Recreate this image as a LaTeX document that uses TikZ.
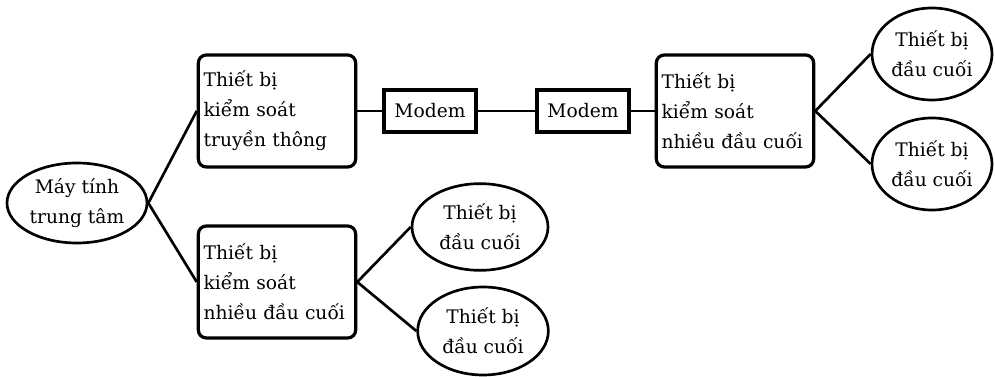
\documentclass[tikz,border=0pt]{standalone}
\usepackage{fontspec}
\setmainfont{DejaVu Serif}
\usepackage{tikz}
\usetikzlibrary{shapes.geometric}
\tikzset{
  ctrlbox/.style={draw,line width=2.4pt,rounded corners=6pt,text width=110pt,align=left,inner sep=4pt,minimum height=84pt},
  modembox/.style={draw,line width=3pt,minimum width=69pt,minimum height=32pt,inner sep=2pt},
  termnode/.style={draw,ellipse,line width=2pt,inner sep=0pt,align=center},
  link/.style={line width=2pt}
}

\begin{document}
\begin{tikzpicture}[x=0.75pt,y=-0.75pt,font=\fontsize{14}{22.5}\selectfont]
\useasboundingbox (0,0) rectangle (995,377);
\node[termnode,minimum width=105pt,minimum height=60pt] (host) at (77,203) {Máy tính\\trung tâm};
\node[ctrlbox] (ctl1) at (277,111) {Thiết bị\\kiểm soát\\truyền thông};
\node[ctrlbox] (ctl2) at (735,111) {Thiết bị\\kiểm soát\\nhiều đầu cuối};
\node[ctrlbox] (ctl3) at (277,282) {Thiết bị\\kiểm soát\\nhiều đầu cuối};
\node[modembox] (modemA) at (430,111) {Modem};
\node[modembox] (modemB) at (583,111) {Modem};
\node[termnode,minimum width=90pt,minimum height=69pt] (term1) at (932,54) {Thiết bị\\đầu cuối};
\node[termnode,minimum width=90pt,minimum height=69pt] (term2) at (932,164) {Thiết bị\\đầu cuối};
\node[termnode,minimum width=102pt,minimum height=65pt] (term3) at (480,227) {Thiết bị\\đầu cuối};
\node[termnode,minimum width=98pt,minimum height=66pt] (term4) at (483,331) {Thiết bị\\đầu cuối};
\draw[link] (host.east) -- (ctl1.west);
\draw[link] (host.east) -- (ctl3.west);
\draw[link] (ctl1.east) -- (modemA.west);
\draw[link] (modemA.east) -- (modemB.west);
\draw[link] (modemB.east) -- (ctl2.west);
\draw[link] (ctl2.east) -- (term1.west);
\draw[link] (ctl2.east) -- (term2.west);
\draw[link] (ctl3.east) -- (term3.west);
\draw[link] (ctl3.east) -- (term4.west);
\end{tikzpicture}
\end{document}
